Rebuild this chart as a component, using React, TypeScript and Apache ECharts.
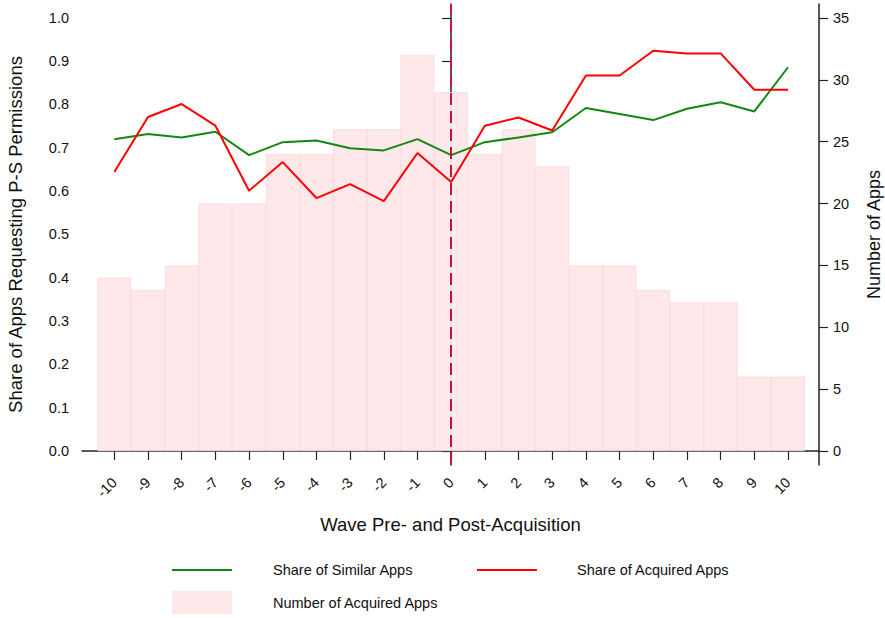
import React, { useEffect, useRef } from "react";
import * as echarts from "echarts";

const waves = [-10, -9, -8, -7, -6, -5, -4, -3, -2, -1, 0, 1, 2, 3, 4, 5, 6, 7, 8, 9, 10];
const similarShare = [0.72, 0.732, 0.724, 0.737, 0.683, 0.713, 0.717, 0.699, 0.694, 0.72, 0.683, 0.713, 0.724, 0.736, 0.792, 0.778, 0.764, 0.79, 0.805, 0.784, 0.886];
const acquiredShare = [0.644, 0.771, 0.801, 0.751, 0.601, 0.667, 0.584, 0.616, 0.577, 0.688, 0.621, 0.751, 0.77, 0.74, 0.867, 0.867, 0.924, 0.918, 0.918, 0.834, 0.834];
const acquiredCount = [14, 13, 15, 20, 20, 24, 24, 26, 26, 32, 29, 24, 26, 23, 15, 15, 13, 12, 12, 6, 6];
const leftTicks = [0, 0.1, 0.2, 0.3, 0.4, 0.5, 0.6, 0.7, 0.8, 0.9, 1.0];
const rightTicks = [0, 5, 10, 15, 20, 25, 30, 35];

const FONT = "Liberation Sans, Arial, sans-serif";
const AXIS_COLOR = "#222";

export default function App() {
  const ref = useRef<HTMLDivElement>(null);
  useEffect(() => {
    const chart = echarts.init(ref.current!, null, { renderer: "svg" });
    const axisCommon = {
      axisLine: { show: true, lineStyle: { color: AXIS_COLOR, width: 1.5 } },
      axisTick: { show: true, length: 9, lineStyle: { color: AXIS_COLOR, width: 1.2 } },
      splitLine: { show: false },
    };
    chart.setOption({
      animation: false,
      textStyle: { fontFamily: FONT },
      grid: { left: 82, right: 66, top: 4, bottom: 153, outerBoundsMode: "none", containLabel: false },
      xAxis: {
        type: "value",
        min: -10.96,
        max: 10.92,
        ...axisCommon,
        axisTick: { ...axisCommon.axisTick, customValues: waves },
        axisLabel: {
          customValues: waves,
          rotate: 45,
          margin: 15,
          color: "#111",
          fontSize: 14.5,
          fontFamily: FONT,
          formatter: (v: number) => String(v),
        },
        name: "Wave Pre- and Post-Acquisition",
        nameLocation: "middle",
        nameGap: 50,
        nameTextStyle: { fontSize: 18.5, color: "#111", fontFamily: FONT },
      },
      yAxis: [
        {
          type: "value",
          min: -0.0323,
          max: 1.032,
          position: "left",
          ...axisCommon,
          axisTick: { ...axisCommon.axisTick, customValues: leftTicks },
          axisLabel: {
            customValues: leftTicks,
            margin: 13,
            color: "#111",
            fontSize: 14.5,
            fontFamily: FONT,
            formatter: (v: number) => v.toFixed(1),
          },
          name: "Share of Apps Requesting P-S Permissions",
          nameLocation: "middle",
          nameGap: 57,
          nameRotate: 90,
          nameTextStyle: { fontSize: 18.5, color: "#111", fontFamily: FONT },
        },
        {
          type: "value",
          min: -1.13,
          max: 36.13,
          position: "right",
          ...axisCommon,
          axisTick: { ...axisCommon.axisTick, customValues: rightTicks },
          axisLabel: {
            customValues: rightTicks,
            margin: 14,
            color: "#111",
            fontSize: 14.5,
            fontFamily: FONT,
          },
          name: "Number of Apps",
          nameLocation: "middle",
          nameGap: 46,
          nameRotate: 90,
          nameTextStyle: { fontSize: 18, color: "#111", fontFamily: FONT },
        },
      ],
      series: [
        {
          name: "Number of Acquired Apps",
          type: "bar",
          yAxisIndex: 1,
          barWidth: 33.7,
          data: waves.map((w, i) => [w, acquiredCount[i]]),
          itemStyle: { color: "#fee8e9", borderColor: "#f9d4d6", borderWidth: 0.6 },
          z: 1,
        },
        {
          name: "Share of Similar Apps",
          type: "line",
          yAxisIndex: 0,
          data: waves.map((w, i) => [w, similarShare[i]]),
          symbol: "none",
          lineStyle: { color: "#128812", width: 2 },
          z: 3,
        },
        {
          name: "Share of Acquired Apps",
          type: "line",
          yAxisIndex: 0,
          data: waves.map((w, i) => [w, acquiredShare[i]]),
          symbol: "none",
          lineStyle: { color: "#ff0000", width: 2 },
          z: 4,
          markLine: {
            silent: true,
            symbol: "none",
            label: { show: false },
            lineStyle: { color: "#c8143f", width: 2, type: [12, 6] },
            data: [[{ coord: [0, -0.0323] }, { coord: [0, 1.032] }]],
          },
        },
      ],
      graphic: [
        { type: "line", shape: { x1: 172, y1: 570, x2: 232, y2: 570 }, style: { stroke: "#128812", lineWidth: 2 } },
        { type: "text", x: 273, y: 570, style: { text: "Share of Similar Apps", fontSize: 14.5, fontFamily: FONT, fill: "#111", verticalAlign: "middle" } },
        { type: "line", shape: { x1: 477, y1: 570, x2: 537, y2: 570 }, style: { stroke: "#ff0000", lineWidth: 2 } },
        { type: "text", x: 577, y: 570, style: { text: "Share of Acquired Apps", fontSize: 14.5, fontFamily: FONT, fill: "#111", verticalAlign: "middle" } },
        { type: "rect", shape: { x: 172, y: 591, width: 60, height: 23 }, style: { fill: "#fee8e9" } },
        { type: "text", x: 273, y: 603, style: { text: "Number of Acquired Apps", fontSize: 14.5, fontFamily: FONT, fill: "#111", verticalAlign: "middle" } },
      ],
    });
    return () => chart.dispose();
  }, []);
  return <div ref={ref} style={{ width: 885, height: 618, position: "absolute", left: 0, top: 0 }} />;
}
